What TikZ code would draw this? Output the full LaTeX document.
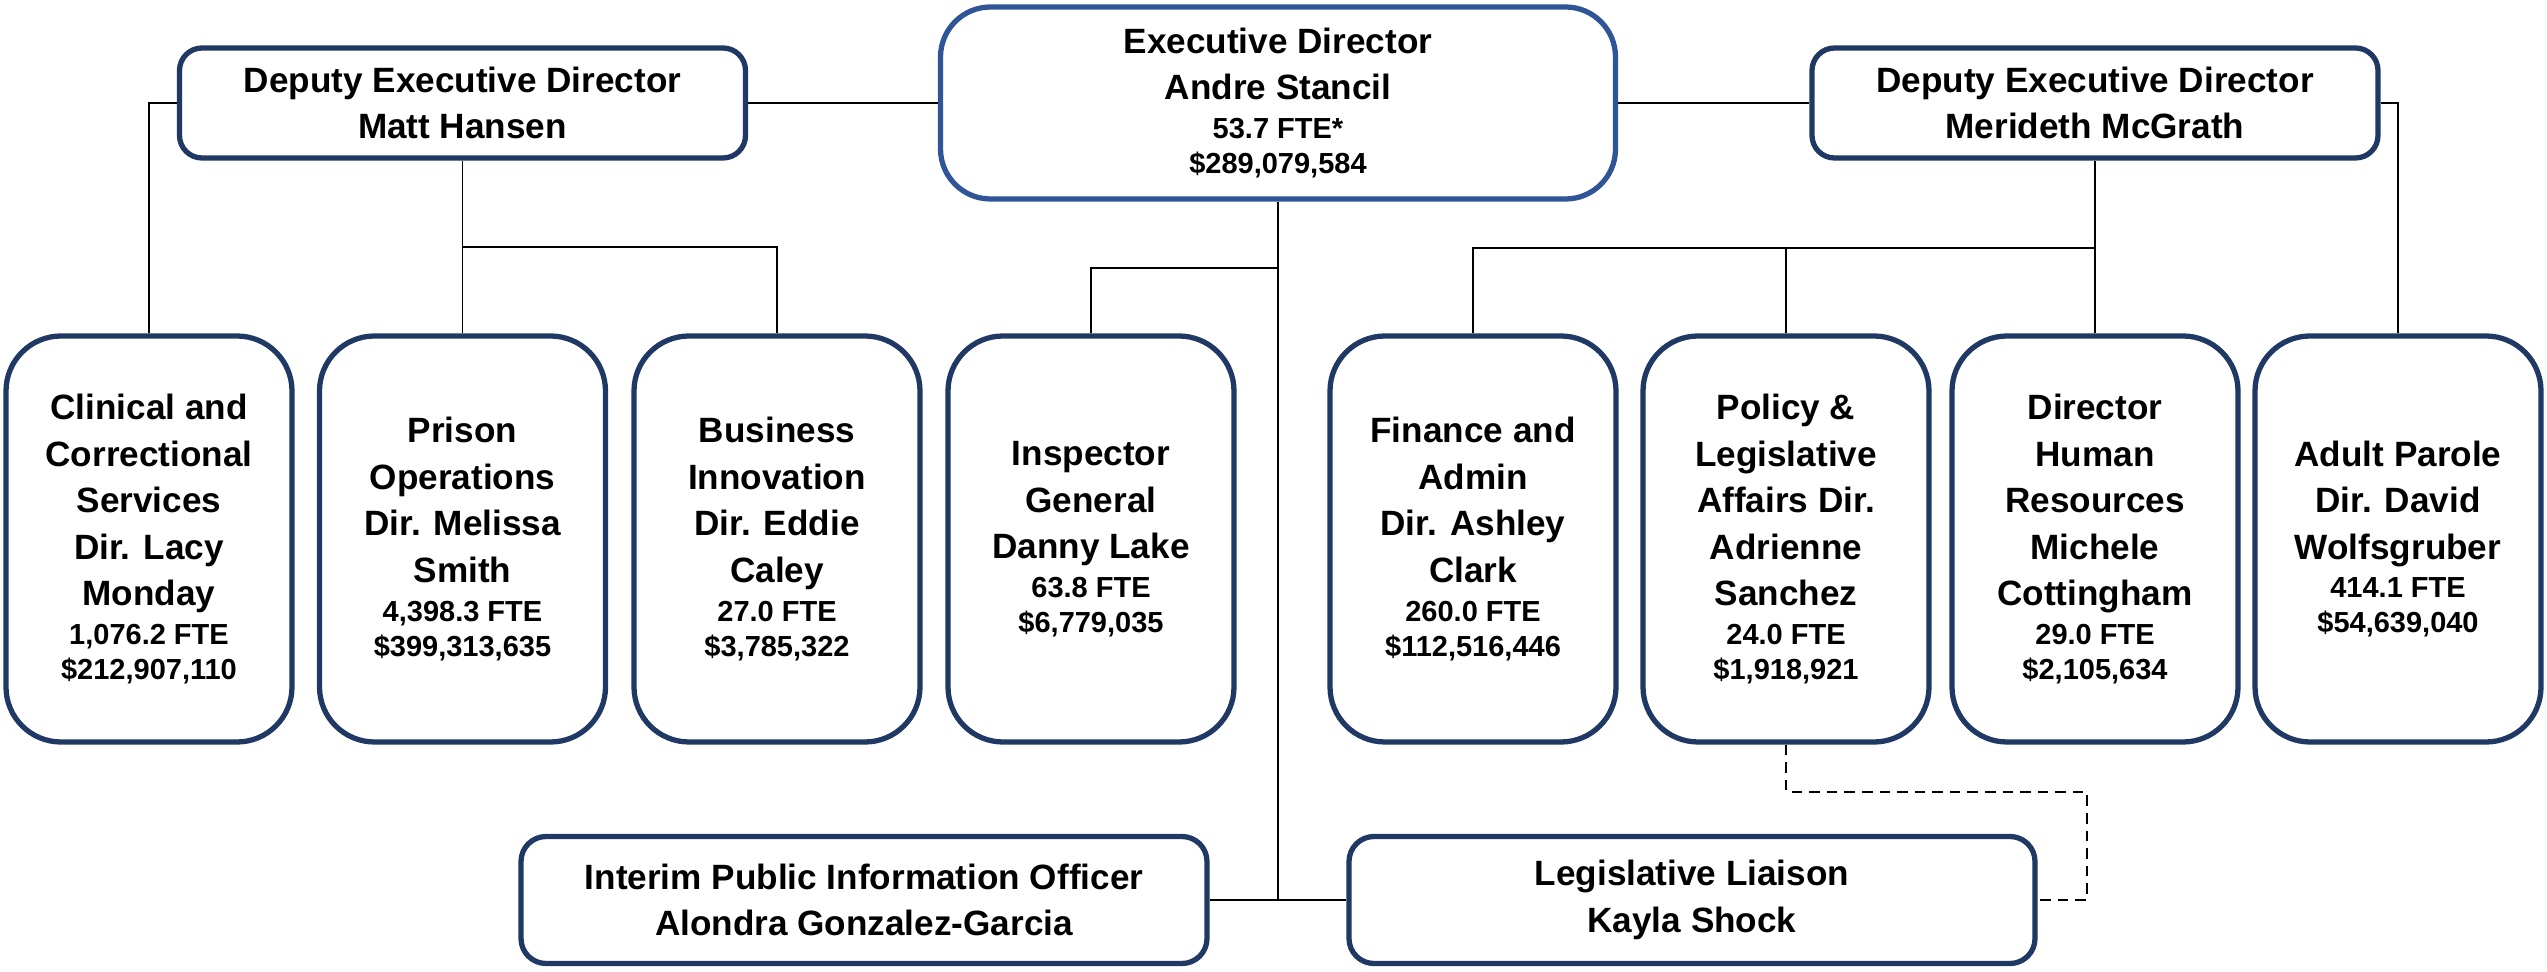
\documentclass[tikz,border=0pt]{standalone}
\usepackage{fontspec}
\setmainfont{Liberation Sans}
\usepackage{tikz}
\usetikzlibrary{calc,positioning}
\definecolor{execblue}{RGB}{47,85,151}
\definecolor{navy}{RGB}{31,56,100}
\newcommand{\fte}[1]{{\fontsize{16.5}{20}\selectfont #1}}
\newcommand{\budget}[2]{\\[-4.5pt]\fte{#1}\\[-6.6pt]\fte{#2}}
\tikzstyle{unit}   = [rectangle, draw=navy, line width=3pt, fill=white, align=center,
                      font=\fontsize{20}{26.5}\selectfont\bfseries]
\tikzstyle{office} = [unit, rounded corners=1.1cm, minimum width=5.72cm, minimum height=8.12cm]
\tikzstyle{deputy} = [unit, rounded corners=0.45cm, minimum width=11.32cm, minimum height=2.2cm]
\tikzstyle{staff}  = [unit, rounded corners=0.5cm, minimum width=13.72cm, minimum height=2.54cm]
\tikzstyle{link}   = [line width=1pt, black]

\begin{document}
\begin{tikzpicture}
	\useasboundingbox (0,0) rectangle (50.94,19.42);

	% top level
	\node[unit, draw=execblue, rounded corners=1cm, minimum width=13.5cm, minimum height=3.84cm] (exec) at (25.56,17.36)
		{Executive Director\\Andre Stancil\budget{53.7 FTE*}{\$289,079,584}};
	\node[deputy] (depL) at (9.25,17.36) {Deputy Executive Director\\Matt Hansen};
	\node[deputy] (depR) at (41.9,17.36) {Deputy Executive Director\\Merideth McGrath};

	% divisions
	\node[office] (clinical) at (2.98,8.64)
		{Clinical and\\Correctional\\Services\\Dir. Lacy\\Monday\budget{1,076.2 FTE}{\$212,907,110}};
	\node[office] (prison) at (9.25,8.64)
		{Prison\\Operations\\Dir. Melissa\\Smith\budget{4,398.3 FTE}{\$399,313,635}};
	\node[office] (business) at (15.54,8.64)
		{Business\\Innovation\\Dir. Eddie\\Caley\budget{27.0 FTE}{\$3,785,322}};
	\node[office] (inspector) at (21.82,8.64)
		{Inspector\\General\\Danny Lake\budget{63.8 FTE}{\$6,779,035}};
	\node[office] (finance) at (29.46,8.64)
		{Finance and\\Admin\\Dir. Ashley\\Clark\budget{260.0 FTE}{\$112,516,446}};
	\node[office] (policy) at (35.72,8.64)
		{Policy \&\\Legislative\\Affairs Dir.\\Adrienne\\Sanchez\budget{24.0 FTE}{\$1,918,921}};
	\node[office] (hr) at (41.9,8.64)
		{Director\\Human\\Resources\\Michele\\Cottingham\budget{29.0 FTE}{\$2,105,634}};
	\node[office] (parole) at (47.96,8.64)
		{Adult Parole\\Dir. David\\Wolfsgruber\budget{414.1 FTE}{\$54,639,040}};

	% staff under the director
	\node[staff] (pio) at (17.28,1.42) {Interim Public Information Officer\\Alondra Gonzalez-Garcia};
	\node[staff] (liaison) at (33.84,1.42) {Legislative Liaison\\Kayla Shock};

	\coordinate (jL) at (9.25,14.48);
	\coordinate (jE) at (25.56,14.06);
	\coordinate (jR) at (41.9,14.46);

	% connectors
	\draw[link] (depL.east) -- (exec.west);
	\draw[link] (exec.east) -- (depR.west);
	\draw[link] (depL.west) -| (clinical.north);
	\draw[link] (depL.south) -- (prison.north);
	\draw[link] (jL) -| (business.north);
	\draw[link] (exec.south) -- (exec.south |- pio.east);
	\draw[link] (jE) -| (inspector.north);
	\draw[link] (pio.east) -- (liaison.west);
	\draw[link] (depR.south) -- (hr.north);
	\draw[link] (finance.north) |- (jR);
	\draw[link] (policy.north) -- (policy.north |- jR);
	\draw[link] (depR.east) -| (parole.north);
	\draw[link, dashed, dash pattern=on 6pt off 4pt] (policy.south) -- ++(0,-0.94) -| ([xshift=0.98cm]liaison.east) -- (liaison.east);
\end{tikzpicture}
\end{document}
